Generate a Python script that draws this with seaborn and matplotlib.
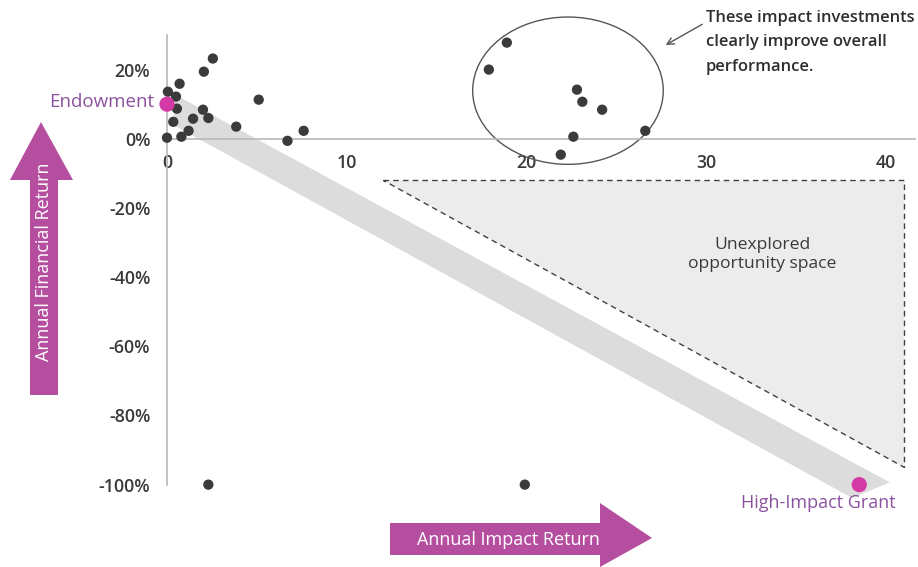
import matplotlib
matplotlib.use("Agg")
import matplotlib.pyplot as plt
import seaborn as sns
import pandas as pd
import numpy as np
from matplotlib.patches import Ellipse, Polygon

# ---------------- data ----------------
impact_return = [2.55, 2.05, 0.7, 0.05, 0.5, 0.55, 2.0, 2.3, 1.45, 0.35, 1.2, 0.8, 0.0,
                 3.85, 5.1, 7.6, 6.7,
                 18.9, 17.9, 22.8, 23.1, 24.2, 26.6, 22.6, 21.9,
                 2.3, 19.9]
financial_return = [23.2, 19.4, 15.9, 13.6, 12.2, 8.7, 8.4, 6.0, 5.8, 4.9, 2.3, 0.6, 0.3,
                    3.5, 11.3, 2.3, -0.6,
                    27.8, 20.0, 14.2, 10.7, 8.4, 2.3, 0.6, -4.6,
                    -100, -100]

anchor_names = ["Endowment", "High-Impact Grant"]
anchor_impact = [0.0, 38.5]
anchor_financial = [10.0, -100.0]

x_ticks = [0, 10, 20, 30, 40]
y_ticks = [20, 0, -20, -40, -60, -80, -100]
y_tick_labels = ["20%", "0%", "-20%", "-40%", "-60%", "-80%", "-100%"]

opportunity_triangle = [(12, -12), (41, -12), (41, -95)]

df = pd.DataFrame({"impact": impact_return, "financial": financial_return})
anchors = pd.DataFrame({"name": anchor_names, "impact": anchor_impact,
                        "financial": anchor_financial})

# ---------------- style ----------------
sns.set_theme(style="white")
plt.rcParams["font.family"] = ["Open Sans", "DejaVu Sans"]

MAGENTA = "#b64ea0"
PURPLE = "#8c52a0"
DOT = "#3b3b3b"
TXT = "#3a3a3a"

fig = plt.figure(figsize=(9.18, 5.67), dpi=100)
ax = fig.add_axes([167 / 918, 72 / 567, 748 / 918, 460 / 567])
ax.set_xlim(0, 41.6)
ax.set_ylim(-103, 30)

# grey trade-off band between the two anchors
slope = (anchor_financial[1] - anchor_financial[0]) / (anchor_impact[1] - anchor_impact[0])
def band_y(x, off):
    return anchor_financial[0] + slope * (x - anchor_impact[0]) + off
band = Polygon([(0.4, band_y(0.4, 4.0)), (40.2, band_y(40.2, 5.5)),
                (38.1, band_y(38.1, -5.0)), (0.4, band_y(0.4, -5.0))],
               closed=True, facecolor="#dcdcdc", edgecolor="none", zorder=1,
               clip_on=False)
ax.add_patch(band)

# unexplored opportunity triangle
tri = Polygon(opportunity_triangle, closed=True, facecolor="#ececec",
              edgecolor="#404040", linestyle=(0, (4, 3)), linewidth=1.0, zorder=1)
ax.add_patch(tri)
ax.text(33.1, -33.5, "Unexplored\nopportunity space", ha="center", va="center",
        fontsize=12.6, color=TXT, linespacing=1.25, zorder=2)

# ellipse around high-impact investments
ell = Ellipse((22.3, 13.9), 10.6, 42.6, facecolor="none", edgecolor="#555555",
              linewidth=1.0, zorder=2, clip_on=False)
ax.add_patch(ell)

# scatter points
sns.scatterplot(data=df, x="impact", y="financial", ax=ax, color=DOT, s=55,
                edgecolor="none", zorder=4, clip_on=False, legend=False)
sns.scatterplot(data=anchors, x="impact", y="financial", ax=ax, color="#d43aa6",
                s=120, edgecolor="none", zorder=5, clip_on=False, legend=False)

ax.text(-0.7, anchor_financial[0] + 0.5, anchor_names[0], ha="right", va="center",
        fontsize=13.5, color=PURPLE)
ax.text(36.2, -105.3, anchor_names[1], ha="center", va="center", fontsize=13,
        color=PURPLE, clip_on=False)

# annotation
ax.annotate("", xy=(27.6, 26.7), xytext=(29.9, 33.5),
            arrowprops=dict(arrowstyle="->", color="#555555", lw=1.0),
            annotation_clip=False)
ax.text(29.95, 37.3, "These impact investments\nclearly improve overall\nperformance.",
        ha="left", va="top", fontsize=11.9, color="#2e2e2e", fontweight="semibold",
        linespacing=1.7, clip_on=False)

# axes styling
for s in ["top", "right"]:
    ax.spines[s].set_visible(False)
ax.spines["left"].set_position(("data", 0))
ax.spines["bottom"].set_position(("data", 0))
for s in ["left", "bottom"]:
    ax.spines[s].set_color("#b8b8b8")
    ax.spines[s].set_linewidth(1.2)
ax.spines["left"].set_bounds(-100, 30)
ax.set_xticks(x_ticks)
ax.set_xticklabels([str(t) for t in x_ticks])
ax.set_yticks(y_ticks)
ax.set_yticklabels(y_tick_labels)
ax.tick_params(axis="both", colors="#b8b8b8", labelcolor=TXT, labelsize=12.8,
               length=4, width=1, direction="out")
ax.tick_params(axis="y", pad=8)
ax.tick_params(axis="x", pad=7)
for lab in ax.get_xticklabels() + ax.get_yticklabels():
    lab.set_fontweight("semibold")
ax.set_xlabel("")
ax.set_ylabel("")
ax.set_zorder(2)

# big decorative axis arrows (figure pixel coords)
W, H = 918, 567
def fx(px):
    return px / W
def fy(py):
    return 1 - py / H

up = Polygon([(fx(30), fy(395)), (fx(58), fy(395)), (fx(58), fy(180)), (fx(73), fy(180)),
              (fx(41), fy(122)), (fx(10), fy(180)), (fx(30), fy(180))],
             closed=True, transform=fig.transFigure, facecolor=MAGENTA, edgecolor="none")
fig.patches.append(up)
fig.text(fx(44), fy(262), "Annual Financial Return", rotation=90, ha="center",
         va="center", color="white", fontsize=13)

right = Polygon([(fx(390), fy(523)), (fx(600), fy(523)), (fx(600), fy(503)), (fx(652), fy(538)),
                 (fx(600), fy(567)), (fx(600), fy(555)), (fx(390), fy(555))],
                closed=True, transform=fig.transFigure, facecolor=MAGENTA, edgecolor="none")
fig.patches.append(right)
fig.text(fx(508), fy(540), "Annual Impact Return", ha="center", va="center",
         color="white", fontsize=13)

fig.savefig("out.png", dpi=100)
